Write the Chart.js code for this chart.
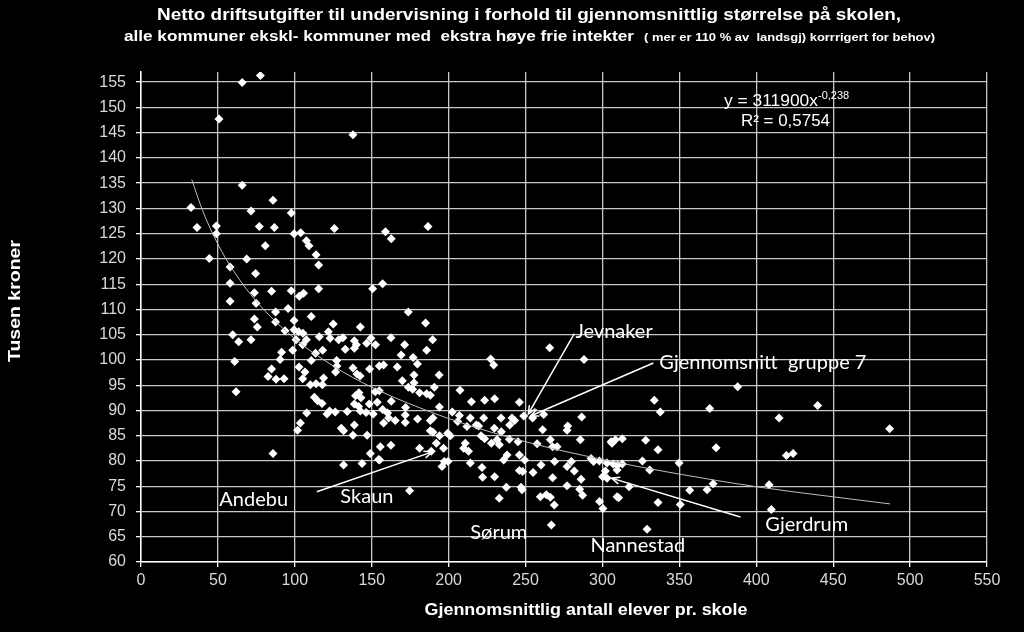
<!DOCTYPE html>
<html>
<head>
<meta charset="utf-8">
<script src="https://cdn.jsdelivr.net/npm/chart.js@4.4.1/dist/chart.umd.min.js"></script>
<style>
  html, body { margin: 0; padding: 0; background: #000; }
  #wrap { width: 1024px; height: 632px; position: relative; }
</style>
</head>
<body>
<div id="wrap"><canvas id="c" width="1024" height="632"></canvas></div>
<script>
// Gjennomsnittlig antall elever pr. skole (x) / netto driftsutgifter, tusen kroner (y)
const elever = [
  77.6, 65.8, 50.7, 137.8, 65.8, 32.5, 85.8, 71.5, 97.7, 36.4, 49.0, 49.0, 76.9, 86.7, 125.7, 99.5, 103.8, 80.8, 107.5, 109.2,
  113.8, 44.4, 68.7, 158.9, 162.7, 186.6,
  57.9, 74.5, 115.5, 57.9, 73.7, 84.9, 97.7, 102.9, 105.7, 115.5, 150.6, 57.9, 74.8, 87.5, 95.6, 110.7, 73.7, 87.5, 99.5, 125.0,
  75.6, 142.6, 93.6, 99.5, 102.5, 105.3, 59.6, 115.9, 121.8, 122.9, 63.5, 71.5, 100.8, 107.5, 105.1, 128.5, 131.3, 138.7, 140.0,
  146.7, 149.5, 152.5, 132.8, 138.7, 91.4, 98.6, 113.5, 118.1, 60.9, 90.4, 110.7, 127.2, 127.4, 137.8, 148.6, 154.9, 84.9, 102.7,
  106.6, 126.5, 140.4, 142.4, 82.6, 87.8, 93.0, 105.1, 118.7, 110.1, 113.8, 117.9, 61.8, 112.7, 114.8, 117.7, 139.5, 141.7, 143.0,
  152.3, 138.7, 141.5, 148.4, 153.6, 107.7, 120.9, 122.6, 126.3, 134.1, 142.6, 146.3, 151.0,
  103.6, 101.8, 130.2, 131.7, 138.7, 137.8, 147.0, 85.8, 149.1, 154.5, 131.7, 143.7,
  157.1, 173.8, 185.0, 162.5, 171.4, 189.6, 169.1, 176.9, 179.7, 185.7, 157.7, 166.6, 177.5, 193.8, 169.9, 177.5, 173.8, 176.6,
  190.7, 181.1, 185.7, 188.1, 154.9, 207.4, 227.3, 229.3, 265.7, 288.0, 162.7, 157.1, 160.3, 172.0, 194.0, 202.4, 214.8, 223.4,
  229.9, 246.0, 261.8, 286.5, 207.0, 214.1, 222.8, 234.1, 241.2, 248.8, 254.6,
  157.7, 161.0, 165.3, 171.8, 171.8, 179.8, 188.1, 189.8, 188.1, 189.8, 194.1, 199.4, 201.1, 205.9, 211.9, 218.0, 219.5, 221.1,
  223.4, 229.7, 234.3, 239.7, 242.9, 261.1, 277.4, 277.0, 285.6, 155.6, 162.5, 181.1, 188.7, 192.0, 196.7, 209.8, 212.9, 210.8,
  227.8, 231.5, 233.0, 238.0, 235.8, 239.5, 245.1, 246.0, 249.4, 257.5, 266.1, 267.6, 270.5, 260.1, 268.9, 277.0, 279.8, 281.7,
  286.1, 277.0, 285.2, 287.1, 155.1, 197.2, 199.6, 195.7, 214.1, 221.7, 222.1, 229.9, 246.0, 248.1, 254.9, 267.6, 237.5, 247.1,
  247.7, 259.6, 263.5, 266.1, 268.7, 232.9, 174.6, 266.8, 292.6, 294.2, 298.0, 300.1, 303.0, 298.1, 300.3, 305.6, 308.4, 309.5,
  309.5,
  387.9, 333.7, 337.6, 369.7, 414.8, 439.9, 486.7, 306.2, 312.9, 328.1, 336.1, 373.9, 419.6, 423.9, 303.0, 307.0, 309.9, 312.9,
  326.0, 330.7, 349.8, 301.9, 317.3, 371.9, 368.0, 356.7, 408.3, 310.5, 336.1, 350.6, 409.8, 329.0
];
const utgifter = [
  156.3, 154.9, 147.7, 144.6, 134.6, 130.2, 131.6, 129.5, 129.1, 126.2, 126.5, 125.0, 126.4, 126.2, 126.0, 125.0, 125.2, 122.6, 123.6, 122.6,
  120.8, 120.1, 120.0, 125.4, 124.0, 126.4,
  118.4, 117.1, 118.8, 115.2, 113.3, 113.6, 113.7, 112.6, 113.2, 114.1, 114.1, 111.6, 111.2, 109.5, 110.2, 108.6, 108.1, 107.5, 107.8, 107.1,
  106.5, 106.5, 105.8, 106.0, 105.6, 105.3, 105.0, 104.6, 105.6, 104.3, 103.6, 104.0, 104.0, 104.0, 103.0, 104.0, 104.4, 103.8, 103.0,
  103.3, 104.3, 103.0, 102.1, 102.3, 101.5, 101.9, 101.3, 101.9, 99.7, 100.1, 99.9, 99.9, 98.8, 98.4, 98.2, 98.8, 98.2, 98.6,
  97.6, 97.6, 97.2, 96.8, 96.7, 96.2, 96.3, 96.3, 96.4, 95.1, 95.3, 95.1, 93.7, 92.6, 91.9, 91.4, 92.9, 93.5, 92.5,
  93.7, 91.3, 90.8, 91.3, 91.6, 89.5, 89.3, 89.9, 89.7, 89.8, 89.9, 89.6, 89.3,
  87.5, 86.1, 86.5, 86.0, 87.1, 85.1, 85.1, 81.5, 81.5, 80.3, 79.2, 79.5,
  115.1, 109.5, 107.3, 104.4, 103.0, 104.0, 101.0, 100.5, 99.2, 101.9, 99.0, 98.6, 97.0, 97.0, 95.9, 95.5, 94.6, 94.2,
  94.6, 93.5, 93.3, 93.0, 93.9, 94.0, 100.2, 99.0, 102.4, 100.1, 91.8, 90.2, 89.5, 90.6, 90.7, 89.7, 91.7, 92.0,
  92.3, 91.6, 89.2, 88.7, 89.0, 88.5, 88.5, 88.5, 88.5, 88.9, 88.5,
  87.5, 88.5, 88.0, 89.1, 87.6, 88.3, 88.0, 88.5, 86.0, 85.7, 85.0, 85.5, 85.0, 87.8, 86.8, 87.1, 86.9, 85.0,
  84.4, 86.5, 85.8, 87.1, 88.0, 86.2, 86.9, 86.1, 84.2, 82.8, 83.1, 82.5, 81.9, 83.5, 82.5, 82.5, 81.9, 83.5,
  83.5, 84.2, 83.2, 81.2, 80.2, 84.3, 83.8, 81.2, 80.2, 83.4, 84.2, 82.8, 82.8, 79.2, 79.9, 78.9, 79.9, 78.0,
  76.4, 75.1, 74.4, 73.2, 80.2, 79.9, 79.9, 78.9, 79.6, 78.7, 76.8, 76.9, 78.1, 77.9, 77.7, 76.7, 74.8, 74.8,
  74.3, 72.9, 73.3, 72.8, 71.3, 72.6, 74.1, 67.3, 80.5, 79.9, 80.0, 76.9, 76.6, 72.0, 70.6, 83.8, 84.2, 78.2,
  72.9,
  94.7, 92.0, 89.7, 90.4, 88.5, 91.0, 86.4, 83.5, 84.4, 84.1, 82.2, 82.6, 81.1, 81.5, 79.6, 79.4, 79.2, 79.4,
  80.0, 78.2, 79.6, 78.0, 74.9, 75.5, 74.3, 74.2, 75.3, 72.7, 71.8, 71.4, 70.4, 66.5
];

// Potenstrend y = 311900x^-0,238 (tusen kr), lest av kurven
const trendX = [33, 40, 50, 60, 75, 100, 125, 150, 200, 250, 300, 350, 400, 450, 487];
const trendY = [135.7, 129.6, 122.9, 117.7, 111.6, 104.2, 98.8, 94.6, 88.4, 83.8, 80.3, 77.4, 74.9, 72.9, 71.5];

const xTicks = [0, 50, 100, 150, 200, 250, 300, 350, 400, 450, 500, 550];
const yTicks = [60, 65, 70, 75, 80, 85, 90, 95, 100, 105, 110, 115, 120, 125, 130, 135, 140, 145, 150, 155];

// Kommunenavn i figuren
const noteNames = ['Jevnaker', 'Gjennomsnitt  gruppe 7', 'Andebu', 'Skaun', 'Sørum', 'Nannestad', 'Gjerdrum'];

const TICK_COLOR = '#d9d9d9';
const GRID_COLOR = '#c8c8c8';

// label anchor (left, middle) in data coords + optional pointer line
const notes = [
  { at: [282.4, 105.6], from: [281.7, 105.2], to: [251.8, 89.3] },
  { at: [337.0, 99.4], from: [333.1, 99.4], to: [253.2, 88.9] },
  { at: [50.9, 72.3], from: [114.3, 73.9], to: [189.4, 81.8] },
  { at: [129.6, 72.9] },
  { at: [214.1, 65.8] },
  { at: [292.2, 63.2] },
  { at: [405.9, 67.5], from: [389.7, 68.9], to: [305.8, 76.6] },
];

function fitText(ctx, text, x, y, width, align) {
  const w = ctx.measureText(text).width;
  const s = width ? width / w : 1;
  ctx.save();
  ctx.translate(x, y);
  ctx.scale(s, 1);
  let dx = 0;
  if (align === 'center') dx = -w / 2;
  else if (align === 'right') dx = -w;
  ctx.textAlign = 'left';
  ctx.fillText(text, dx, 0);
  ctx.restore();
}

const textPlugin = {
  id: 'texts',
  afterDatasetsDraw(chart) {
    const ctx = chart.ctx;
    const xs = chart.scales.x, ys = chart.scales.y;
    ctx.save();
    ctx.fillStyle = '#ffffff';
    ctx.textBaseline = 'alphabetic';

    // titles
    ctx.font = 'bold 17px "Liberation Sans", Arial, sans-serif';
    fitText(ctx, 'Netto driftsutgifter til undervisning i forhold til gjennomsnittlig størrelse på skolen,', 529, 20, 744, 'center');
    ctx.font = 'bold 14px "Liberation Sans", Arial, sans-serif';
    fitText(ctx, 'alle kommuner ekskl- kommuner med  ekstra høye frie intekter', 124, 41, 510, 'left');
    ctx.font = 'bold 11px "Liberation Sans", Arial, sans-serif';
    fitText(ctx, '( mer er 110 % av  landsgj) korrrigert for behov)', 644, 41, 291, 'left');

    // axis titles
    ctx.font = 'bold 16px "Liberation Sans", Arial, sans-serif';
    fitText(ctx, 'Gjennomsnittlig antall elever pr. skole', 586, 615, 323, 'center');
    ctx.save();
    ctx.translate(20, 301);
    ctx.rotate(-Math.PI / 2);
    ctx.font = 'bold 17px "Liberation Sans", Arial, sans-serif';
    fitText(ctx, 'Tusen kroner', 0, 0, 122, 'center');
    ctx.restore();

    // trend equation
    ctx.font = '16px "Liberation Sans", Arial, sans-serif';
    fitText(ctx, 'y = 311900x', 724, 106, 94, 'left');
    ctx.font = '11px "Liberation Sans", Arial, sans-serif';
    fitText(ctx, '-0,238', 818, 99, 0, 'left');
    ctx.font = '16px "Liberation Sans", Arial, sans-serif';
    fitText(ctx, 'R² = 0,5754', 741, 126, 89, 'left');

    // name labels with pointers
    ctx.font = '20px Lato, "Open Sans", sans-serif';
    ctx.textBaseline = 'middle';
    ctx.strokeStyle = '#ffffff';
    ctx.lineWidth = 1.5;
    notes.forEach((n, i) => {
      const px = xs.getPixelForValue(n.at[0]);
      const py = ys.getPixelForValue(n.at[1]);
      ctx.fillText(noteNames[i], px, py);
      if (n.from) {
        const x1 = xs.getPixelForValue(n.from[0]), y1 = ys.getPixelForValue(n.from[1]);
        const x2 = xs.getPixelForValue(n.to[0]), y2 = ys.getPixelForValue(n.to[1]);
        ctx.beginPath();
        ctx.moveTo(x1, y1);
        ctx.lineTo(x2, y2);
        const a = Math.atan2(y2 - y1, x2 - x1);
        const L = 9;
        ctx.moveTo(x2 - L * Math.cos(a - 0.4), y2 - L * Math.sin(a - 0.4));
        ctx.lineTo(x2, y2);
        ctx.lineTo(x2 - L * Math.cos(a + 0.4), y2 - L * Math.sin(a + 0.4));
        ctx.stroke();
      }
    });
    ctx.restore();
  }
};

const tickFont = { family: '"Liberation Sans", Arial, sans-serif', size: 16 };

new Chart(document.getElementById('c'), {
  type: 'scatter',
  data: {
    datasets: [
      {
        label: 'Kommuner',
        data: elever.map((x, i) => ({ x: x, y: utgifter[i] })),
        pointStyle: 'rectRot',
        pointRadius: 4.5,
        backgroundColor: '#ffffff',
        borderColor: '#ffffff',
        borderWidth: 0,
        order: 2,
      },
      {
        label: 'Trend',
        type: 'line',
        data: trendX.map((x, i) => ({ x: x, y: trendY[i] })),
        showLine: true,
        borderColor: '#bdbdbd',
        borderWidth: 1,
        pointRadius: 0,
        cubicInterpolationMode: 'monotone',
        order: 1,
      },
    ]
  },
  options: {
    responsive: false,
    animation: false,
    layout: { padding: { left: 0, right: 37, top: 72, bottom: 0 } },
    plugins: { legend: { display: false }, tooltip: { enabled: false } },
    scales: {
      x: {
        type: 'linear',
        min: 0, max: 550,
        afterBuildTicks: (s) => { s.ticks = xTicks.map(v => ({ value: v })); },
        afterFit: (s) => { s.height = 70; },
        ticks: { color: TICK_COLOR, font: tickFont, padding: 4, maxRotation: 0 },
        grid: { color: GRID_COLOR, lineWidth: 1.3, tickLength: 5, tickColor: '#ffffff' },
        border: { color: '#ffffff', width: 1.5 },
      },
      y: {
        min: 60, max: 157,
        afterBuildTicks: (s) => { s.ticks = yTicks.map(v => ({ value: v })); },
        afterFit: (s) => { s.width = 141; },
        ticks: { color: TICK_COLOR, font: tickFont, padding: 10 },
        grid: { color: GRID_COLOR, lineWidth: 1.3, tickLength: 5, tickColor: '#ffffff' },
        border: { color: '#ffffff', width: 1.5 },
      },
    },
  },
  plugins: [textPlugin],
});
</script>
</body>
</html>
